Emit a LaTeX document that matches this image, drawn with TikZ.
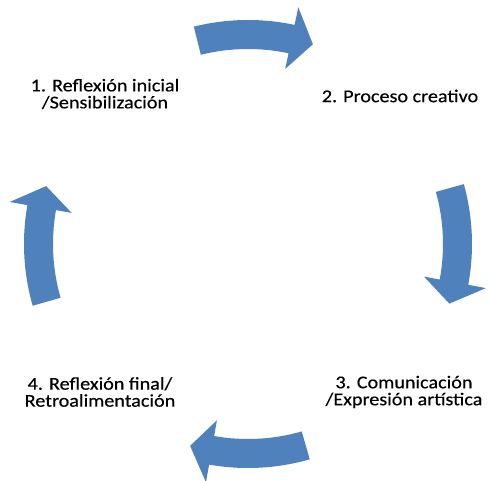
\documentclass[tikz,border=0pt]{standalone}
\usepackage{fontspec}
\setmainfont{Carlito}[FakeStretch=1.12,FakeBold=0.4]
\begin{document}
\begin{tikzpicture}[x=1pt,y=1pt,
  cyc/.style={fill=cycblue,draw=none},
  lbl/.style={align=center,inner sep=0pt,font=\fontsize{18}{17}\selectfont}]
\definecolor{cycblue}{HTML}{4F81BD}
\useasboundingbox (0,0) rectangle (488,480);
% curved block arrow on the cycle circle; #1 = middle angle, runs clockwise
\newcommand\cyclearrow[1]{%
  \pgfmathsetmacro\aT{#1+16}%
  \pgfmathsetmacro\aB{#1-10}%
  \pgfmathsetmacro\aP{#1-16}%
  \fill[cyc] (\aT:224) arc[start angle=\aT, end angle=\aB, radius=224]
    -- (\aB:242) -- (\aP:210) -- (\aB:179) -- (\aB:195)
    arc[start angle=\aB, end angle=\aT, radius=195] -- cycle;}
\begin{scope}[shift={(248,236)}]
  \cyclearrow{88}
  \cyclearrow{-0.5}
  \cyclearrow{-90}
  \cyclearrow{180}
\end{scope}
\node[lbl] (s1) at (105,386) {1. Reflexión inicial\\/Sensibilización};
\node[lbl] (s2) at (400,384) {2. Proceso creativo};
\node[lbl] (s3) at (404,88) {3. Comunicación\\/Expresión artística};
\node[lbl] (s4) at (100,88) {4. Reflexión final/\\Retroalimentación};
\end{tikzpicture}
\end{document}
